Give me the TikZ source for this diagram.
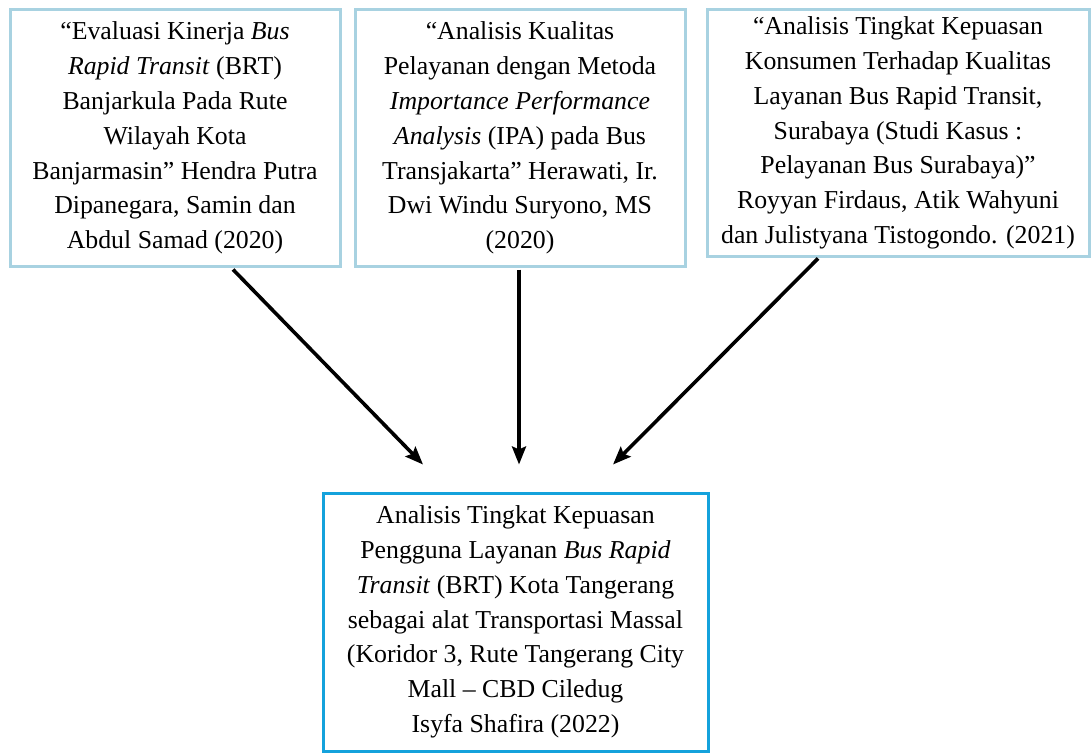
\documentclass[tikz,border=0pt]{standalone}
\usepackage{fontspec}
\setmainfont{Liberation Serif}
\usetikzlibrary{arrows.meta}
\definecolor{paleblue}{RGB}{168,210,225}
\definecolor{brightblue}{RGB}{20,162,220}

\begin{document}
\begin{tikzpicture}[x=1pt,y=-1pt,
    ref/.style={draw=paleblue,line width=3pt,align=center,inner sep=0pt,
      minimum width=330pt,minimum height=256pt,font=\rmfamily\fontsize{25.8}{34.8}\selectfont},
    own/.style={ref,draw=brightblue,minimum width=385pt,minimum height=258pt},
    link/.style={line width=3.6pt,-{Stealth[length=18pt,width=14pt,inset=3pt]}}]
  \useasboundingbox (0,0) rectangle (1091,752);
  % earlier studies
  \node[ref] (b1) at (175,138) {“Evaluasi Kinerja \textit{Bus}\\
    \textit{Rapid Transit} (BRT)\\ Banjarkula Pada Rute\\ Wilayah Kota\\
    Banjarmasin” Hendra Putra\\ Dipanegara, Samin dan\\ Abdul Samad (2020)};
  \node[ref] (b2) at (520,138) {“Analisis Kualitas\\
    Pelayanan dengan Metoda\\ \textit{Importance Performance}\\
    \textit{Analysis} (IPA) pada Bus\\ Transjakarta” Herawati, Ir.\\
    Dwi Windu Suryono, MS\\ (2020)};
  \node[ref,minimum width=382pt,minimum height=246pt] (b3) at (898,133)
    {“Analisis Tingkat Kepuasan\\ Konsumen Terhadap Kualitas\\
    Layanan Bus Rapid Transit,\\ Surabaya (Studi Kasus :\\
    Pelayanan Bus Surabaya)”\\ Royyan Firdaus, Atik Wahyuni\\
    dan Julistyana Tistogondo. (2021)};
  % this study
  \node[own] (res) at (515.5,622) {Analisis Tingkat Kepuasan\\
    Pengguna Layanan \textit{Bus Rapid}\\ \textit{Transit} (BRT) Kota Tangerang\\
    sebagai alat Transportasi Massal\\ (Koridor 3, Rute Tangerang City\\
    Mall – CBD Ciledug\\ Isyfa Shafira (2022)};
  \begin{scope}[link]
    \draw ([xshift=58pt,yshift=-2pt]b1.south) to ([xshift=-92.5pt,yshift=27pt]res.north);
    \draw ([xshift=-1pt,yshift=-2pt]b2.south) to ([xshift=3.5pt,yshift=27pt]res.north);
    \draw ([xshift=-80pt,yshift=-1pt]b3.south) to ([xshift=97.5pt,yshift=27pt]res.north);
  \end{scope}
\end{tikzpicture}
\end{document}
